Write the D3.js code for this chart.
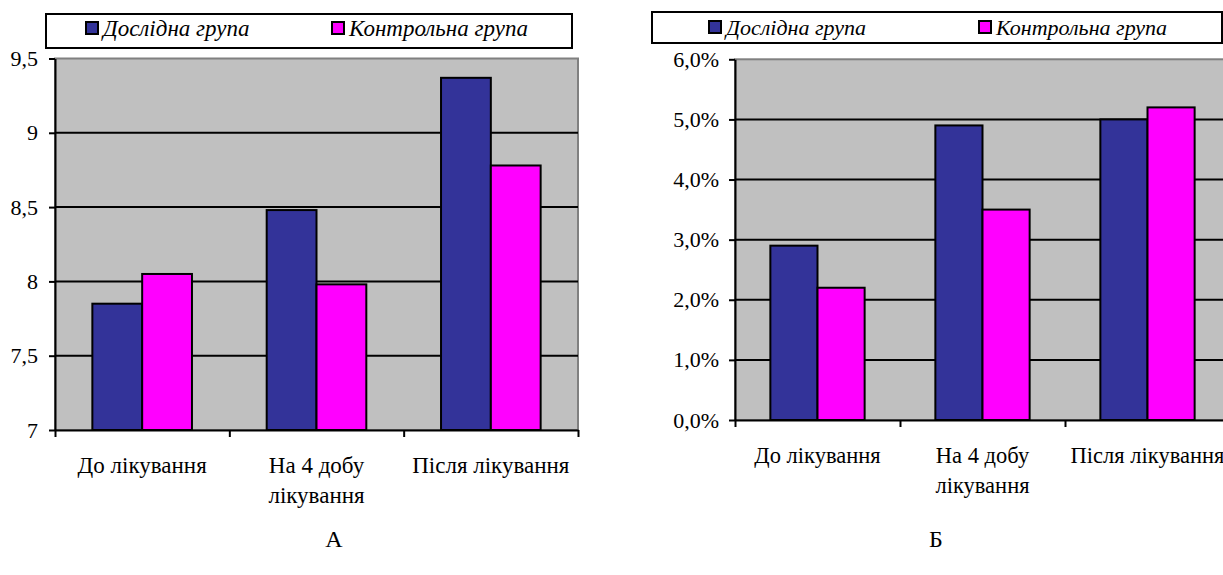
<!DOCTYPE html>
<html>
<head>
    <meta charset="UTF-8">
    <title>Дослідна та контрольна група</title>
    <script src="https://d3js.org/d3.v7.min.js"></script>
    <style>
        body { margin: 0; background: #fff; }
        svg { display: block; }
        .axis path, .axis line { stroke: #000; stroke-width: 2; }
    </style>
</head>
<body>
<script>
    const width = 1223;
    const height = 575;

    // data
    const seriesNames = ["Дослідна група", "Контрольна група"];
    const seriesColors = ["#333399", "#ff00ff"];

    const categoriesA = [["До лікування"], ["На 4 добу", "лікування"], ["Після лікування"]];
    const experimentalA = [7.85, 8.48, 9.37];
    const controlA = [8.05, 7.98, 8.78];
    const ticksA = [7, 7.5, 8, 8.5, 9, 9.5];

    const categoriesB = [["До лікування"], ["На 4 добу", "лікування"], ["Після лікування"]];
    const experimentalB = [0.029, 0.049, 0.050];
    const controlB = [0.022, 0.035, 0.052];
    const ticksB = [0, 0.01, 0.02, 0.03, 0.04, 0.05, 0.06];

    const serif = "Liberation Serif";

    const svg = d3.select("body").append("svg")
        .attr("width", width).attr("height", height);

    function drawChart(opts) {
        const g = svg.append("g");
        const values = [opts.exp, opts.ctrl];

        const x = d3.scaleBand()
            .domain(d3.range(opts.categories.length))
            .range([opts.left, opts.right]);
        const bw = x.bandwidth() / 3.5;
        const x1 = d3.scaleBand()
            .domain([0, 1])
            .range([bw * 0.75, x.bandwidth() - bw * 0.75]);
        const y = d3.scaleLinear()
            .domain([opts.ticks[0], opts.ticks[opts.ticks.length - 1]])
            .range([opts.bottom, opts.top]);

        // plot area
        g.append("rect")
            .attr("x", opts.left).attr("y", opts.top)
            .attr("width", opts.right - opts.left).attr("height", opts.bottom - opts.top)
            .attr("fill", "#c0c0c0")
            .attr("stroke", "#808080").attr("stroke-width", 2);

        // gridlines
        g.selectAll("line.grid")
            .data(opts.ticks.slice(1, -1))
            .enter().append("line")
            .attr("class", "grid")
            .attr("x1", opts.left).attr("x2", opts.right)
            .attr("y1", d => y(d)).attr("y2", d => y(d))
            .attr("stroke", "#000").attr("stroke-width", 2);

        // bars
        const groups = g.selectAll("g.cat")
            .data(opts.categories.map((c, i) => i))
            .enter().append("g")
            .attr("transform", i => `translate(${x(i)},0)`);
        groups.selectAll("rect")
            .data(i => values.map((v, s) => ({s: s, v: v[i]})))
            .enter().append("rect")
            .attr("x", d => x1(d.s))
            .attr("width", x1.bandwidth())
            .attr("y", d => y(d.v))
            .attr("height", d => opts.bottom - y(d.v))
            .attr("fill", d => seriesColors[d.s])
            .attr("stroke", "#000").attr("stroke-width", 2);

        // y axis
        const yAxis = g.append("g")
            .attr("class", "axis")
            .attr("transform", `translate(${opts.left},0)`)
            .call(d3.axisLeft(y).tickValues(opts.ticks).tickSizeInner(6).tickSizeOuter(0)
                .tickPadding(opts.tickPad).tickFormat(opts.format));
        yAxis.attr("font-family", serif).attr("font-size", opts.fontSize);
        yAxis.selectAll("text").attr("fill", "#000");

        // x axis with ticks between categories
        const xb = d3.scaleLinear().domain([0, opts.categories.length]).range([opts.left, opts.right]);
        g.append("g")
            .attr("class", "axis")
            .attr("transform", `translate(0,${opts.bottom})`)
            .call(d3.axisBottom(xb).tickValues(d3.range(opts.categories.length + 1))
                .tickSizeInner(7).tickSizeOuter(0).tickFormat(""));

        // category labels
        g.selectAll("text.cat")
            .data(opts.categories)
            .enter().append("text")
            .attr("class", "cat")
            .attr("text-anchor", "middle")
            .attr("font-family", serif)
            .attr("font-size", opts.catFont)
            .attr("x", (d, i) => x(i) + x.bandwidth() / 2)
            .attr("y", opts.bottom + opts.labelOffset)
            .selectAll("tspan")
            .data(d => d)
            .enter().append("tspan")
            .attr("x", function() { return this.parentNode.getAttribute("x"); })
            .attr("dy", (d, i) => i === 0 ? 0 : 30)
            .text(d => d);

        // legend
        const lg = g.append("g");
        lg.append("rect")
            .attr("x", opts.legend.x).attr("y", opts.legend.y)
            .attr("width", opts.legend.w).attr("height", opts.legend.h)
            .attr("fill", "#fff").attr("stroke", "#000").attr("stroke-width", 2);
        seriesNames.forEach((name, i) => {
            const lx = opts.legend.items[i];
            lg.append("rect")
                .attr("x", lx).attr("y", opts.legend.sq)
                .attr("width", 12).attr("height", 12)
                .attr("fill", seriesColors[i])
                .attr("stroke", "#000").attr("stroke-width", 2);
            lg.append("text")
                .attr("x", lx + 17).attr("y", opts.legend.sq + 14)
                .attr("font-family", serif)
                .attr("font-style", "italic")
                .attr("font-size", opts.legendFont)
                .text(name);
        });

        // panel letter
        g.append("text")
            .attr("x", opts.letterX).attr("y", 547)
            .attr("text-anchor", "middle")
            .attr("font-family", serif)
            .attr("font-size", 24)
            .text(opts.letter);
    }

    drawChart({
        categories: categoriesA, exp: experimentalA, ctrl: controlA, ticks: ticksA,
        format: d => String(d).replace(".", ","),
        left: 55, right: 578, top: 58.5, bottom: 430,
        fontSize: 22, catFont: 23, legendFont: 23, labelOffset: 43, tickPad: 11,
        legend: {x: 46, y: 14, w: 526, h: 34, items: [86, 332], sq: 22},
        letter: "А", letterX: 334
    });

    drawChart({
        categories: categoriesB, exp: experimentalB, ctrl: controlB, ticks: ticksB,
        format: d => d3.format(".1%")(d).replace(".", ","),
        left: 735, right: 1230, top: 59.3, bottom: 420,
        fontSize: 22, catFont: 22.5, legendFont: 22, labelOffset: 43, tickPad: 10,
        legend: {x: 652, y: 12, w: 570, h: 31, items: [709, 979], sq: 21},
        letter: "Б", letterX: 936
    });
</script>
</body>
</html>
